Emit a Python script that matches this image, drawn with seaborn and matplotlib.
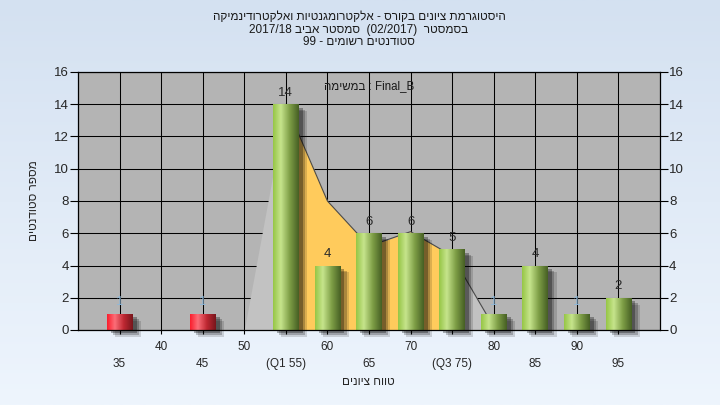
import numpy as np
import matplotlib
matplotlib.use("Agg")
import matplotlib.pyplot as plt
import matplotlib.patheffects as pe
import seaborn as sns

# ---- data -------------------------------------------------------------
scores = [35, 40, 45, 50, 55, 60, 65, 70, 75, 80, 85, 90, 95]
counts = [1, 0, 1, 0, 14, 4, 6, 6, 5, 1, 4, 1, 2]
pass_mark = 50

# frequency outline drawn behind the bars
curve_x = [50, 55, 60, 65, 70, 75, 80]
curve_y = [0, 14, 8, 5.2, 6.1, 4.6, 0.2]
q1, q3 = 55, 75

row1_ticks = [40, 50, 60, 70, 80, 90]
row1_labels = ["40", "50", "60", "70", "80", "90"]
row2_ticks = [35, 45, 55, 65, 75, 85, 95]
row2_labels = ["35", "45", "(Q1 55)", "65", "(Q3 75)", "85", "95"]

title_lines = [
    "היסטוגרמת ציונים בקורס - אלקטרומגנטיות ואלקטרודינמיקה",
    "בסמסטר  (02/2017)  סמסטר אביב 2017/18",
    "סטודנטים רשומים - 99",
]
task_word = "במשימה"
task_name = "Final_B"
x_title = "טווח ציונים"
y_title = "מספר סטודנטים"


def is_hebrew(tok):
    return any("\u0590" <= ch <= "\u05ff" for ch in tok)


def visual(text):
    """Lay out a right-to-left line for a left-to-right text engine."""
    toks = text.split(" ")
    return " ".join(t[::-1] if is_hebrew(t) else t for t in reversed(toks))


# ---- style ------------------------------------------------------------
sns.set_style("white")
plt.rcParams["font.family"] = ["Liberation Sans", "DejaVu Sans"]
plt.rcParams["text.color"] = "#1a1a1a"

W, H = 720, 405
fig = plt.figure(figsize=(W / 100, H / 100), dpi=100)

# soft vertical gradient behind everything
bg = fig.add_axes([0, 0, 1, 1], zorder=-10)
top = np.array([212, 225, 241]) / 255
bot = np.array([238, 245, 253]) / 255
t = np.linspace(0, 1, 256)[:, None]
grad = top[None, :] * (1 - t) + bot[None, :] * t
bg.imshow(grad[:, None, :], aspect="auto", extent=[0, 1, 0, 1])
bg.axis("off")

L, R, T, B = 78, 660, 72, 330
ax = fig.add_axes([L / W, 1 - B / H, (R - L) / W, (B - T) / H])
ax.set_facecolor("#b4b4b4")

groups = ["fail" if s < pass_mark else "pass" for s in scores]
sns.barplot(x=scores, y=counts, hue=groups, native_scale=True, dodge=False,
            palette={"fail": "#d02030", "pass": "#8cb050"}, width=0.62,
            errorbar=None, legend=False, saturation=1, ax=ax,
            linewidth=0, zorder=2, clip_on=False)

# frequency outline: light grey overall, orange between the quartiles
cx = np.array(curve_x, dtype=float)
cy = np.array(curve_y, dtype=float)
ax.fill_between(cx, 0, cy, color="#c2c2c2", lw=0, zorder=1)
iq = (cx >= q1) & (cx <= q3)
ax.fill_between(cx[iq], 0, cy[iq], color="#ffcb5c", lw=0, zorder=1.1)
m = cx >= q1
ax.plot(cx[m], cy[m], color="#4a4a4a", lw=0.8, zorder=1.2)

# cylinder shading + soft drop shadow on every bar
green = np.array([[150, 198, 70], [198, 228, 140], [126, 158, 70],
                  [70, 96, 36]]) / 255
red = np.array([[250, 30, 45], [252, 110, 120], [190, 40, 50],
                [120, 22, 28]]) / 255
stops = [0.0, 0.3, 0.65, 1.0]


def ramp(cols, n=64):
    xs = np.linspace(0, 1, n)
    return np.stack([np.interp(xs, stops, cols[:, k]) for k in range(3)], -1)


shadow = [pe.SimplePatchShadow(offset=(6, -5), shadow_rgbFace="k", alpha=0.14),
          pe.SimplePatchShadow(offset=(4.5, -3.8), shadow_rgbFace="k", alpha=0.22),
          pe.SimplePatchShadow(offset=(3, -2.5), shadow_rgbFace="k", alpha=0.3),
          pe.Normal()]
for p in list(ax.patches):
    h = p.get_height()
    if h <= 0:
        continue
    x0, w = p.get_x(), p.get_width()
    cols = red if x0 + w / 2 < pass_mark else green
    p.set_path_effects(shadow)
    im = ax.imshow(ramp(cols)[None, :, :], extent=[x0, x0 + w, 0, h],
                   aspect="auto", zorder=2.1, interpolation="bilinear")
    im.set_clip_path(p)

# value labels
for s, c in zip(scores, counts):
    if c <= 0:
        continue
    col = "#8db8da" if c == 1 else "#2a2a2a"
    ax.annotate(str(c), (s, c), xytext=(0, 4), textcoords="offset points",
                ha="center", va="bottom", fontsize=9.5, color=col, zorder=3)

ax.set_xlim(30, 100)
ax.set_ylim(0, 16)
ax.set_aspect("auto")

ax.set_xticks(row1_ticks)
ax.set_xticklabels(row1_labels)
ax.set_xticks(row2_ticks, minor=True)
ax.set_xticklabels(row2_labels, minor=True)
ax.set_yticks(range(0, 17, 2))

ax.tick_params(axis="x", which="major", direction="out", length=3, width=0.8,
               pad=5, labelsize=8.5, color="k", bottom=True)
ax.tick_params(axis="x", which="minor", direction="out", length=3, width=0.8,
               pad=17.5, labelsize=8.5, color="k", bottom=True)
ax.tick_params(axis="y", direction="out", length=5.5, width=0.8, pad=1,
               labelsize=9.5, color="k", left=True, right=True,
               labelleft=True, labelright=True)

ax.set_axisbelow(True)
ax.grid(True, which="both", axis="x", color="k", lw=0.75)
ax.grid(True, which="major", axis="y", color="k", lw=0.75)
for sp in ax.spines.values():
    sp.set_color("k")
    sp.set_linewidth(0.9)
    sp.set_zorder(2.5)

ax.set_xlabel(visual(x_title), fontsize=8.5, va="center")
ax.xaxis.set_label_coords((368 - L) / (R - L), -(382 - B) / (B - T))
ax.set_ylabel(visual(y_title), fontsize=8.5, va="center")
ax.yaxis.set_label_coords(-(L - 34) / (R - L), 0.5)

ax.text(0.5, 0.946, task_word[::-1] + " : " + task_name, transform=ax.transAxes,
        ha="center", va="center", fontsize=8.3, zorder=4)

for yy, line in zip([17, 30, 42], title_lines):
    fig.text(359 / W, 1 - yy / H, visual(line), ha="center", va="center",
             fontsize=8.5)

fig.savefig("out.png", dpi=100)
